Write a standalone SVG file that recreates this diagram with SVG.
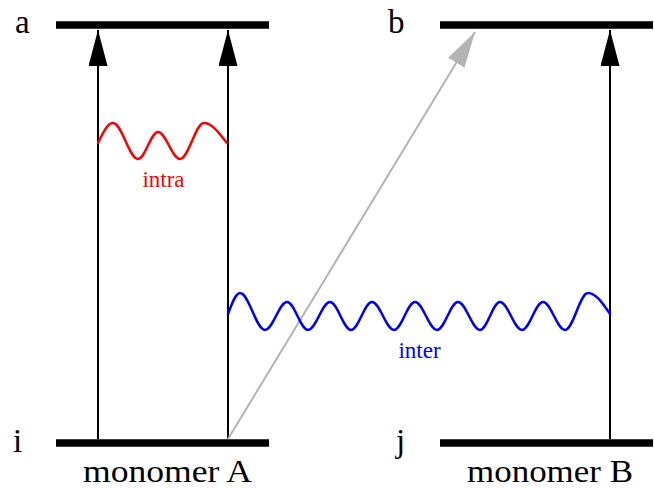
<svg xmlns="http://www.w3.org/2000/svg" width="654" height="489" viewBox="0 0 654 489">
<style>
.lvl{stroke:#000;stroke-width:7.5;fill:none}
.arr{stroke:#000;stroke-width:2;fill:none;marker-end:url(#hb)}
.garr{stroke:#b3b3b3;stroke-width:2;fill:none;marker-end:url(#hg)}
.lab{font-family:"Liberation Serif","Times New Roman",serif;font-size:33px;fill:#000}
.mono{font-family:"Liberation Serif","Times New Roman",serif;font-size:32px;fill:#000}
.wave{fill:none;stroke-width:2.5;stroke-linecap:round}
.wl{font-family:"Liberation Serif","Times New Roman",serif;font-size:23px;text-anchor:middle}
</style>
<defs>
<marker id="hb" markerUnits="userSpaceOnUse" markerWidth="37" markerHeight="20" refX="36" refY="9.5" orient="auto"><path d="M0,0 L36,9.5 L0,19 Z" fill="#000"/></marker>
<marker id="hg" markerUnits="userSpaceOnUse" markerWidth="37" markerHeight="20" refX="36" refY="9.5" orient="auto"><path d="M0,0 L36,9.5 L0,19 Z" fill="#b3b3b3"/></marker>
</defs>
<g id="level-a"><line class="lvl" x1="56" y1="25" x2="269" y2="25"/><text class="lab" x="15" y="33">a</text></g>
<g id="level-b"><line class="lvl" x1="440" y1="25" x2="653" y2="25"/><text class="lab" x="388" y="33">b</text></g>
<g id="level-i"><line class="lvl" x1="56" y1="443" x2="269" y2="443"/><text class="lab" x="13" y="452">i</text></g>
<g id="level-j"><line class="lvl" x1="440" y1="443" x2="653" y2="443"/><text class="lab" x="396" y="452">j</text></g>
<g id="label-A"><text class="mono" x="83" y="482" textLength="169" lengthAdjust="spacingAndGlyphs">monomer A</text></g>
<g id="label-B"><text class="mono" x="467" y="482" textLength="166" lengthAdjust="spacingAndGlyphs">monomer B</text></g>
<g id="connectors">
<line class="arr" x1="98" y1="439" x2="98" y2="30"/>
<line class="arr" x1="228" y1="439" x2="228" y2="30"/>
<line class="arr" x1="610" y1="439" x2="610" y2="30"/>
<line class="garr" x1="228" y1="439" x2="475" y2="32"/>
</g>
<g id="intra">
<path class="wave" stroke="#ff0000" d="M98,143 C103,132.8 107.6,123 113,123 C122,123 129,159 138,159 C145.2,159 150.8,132 158,132 C165.9,132 172.1,159 180,159 C188.6,159 195.4,123 204,123 C211.9,123 218.7,132.8 227,143"/>
<text class="wl" x="163.5" y="187" fill="#ff0000">intra</text>
</g>
<g id="inter">
<path class="wave" stroke="#0000ff" d="M228,314 C232,303.3 235.7,293 240,293 C249,293 256,330 265,330 C272.9,330 279.1,302 287,302 C294.6,302 300.4,330 308,330 C315.9,330 322.1,302 330,302 C337.6,302 343.4,330 351,330 C358.6,330 364.4,302 372,302 C379.9,302 386.1,330 394,330 C401.6,330 407.4,302 415,302 C422.9,302 429.1,330 437,330 C444.6,330 450.4,302 458,302 C465.9,302 472.1,330 480,330 C487.2,330 492.8,302 500,302 C507.9,302 514.1,330 522,330 C529.6,330 535.4,302 543,302 C550.9,302 557.1,330 565,330 C573.3,330 579.7,293 588,293 C595.9,293 602.7,303.3 610,314"/>
<text class="wl" x="419.5" y="358" fill="#0000ff">inter</text>
</g>
</svg>
